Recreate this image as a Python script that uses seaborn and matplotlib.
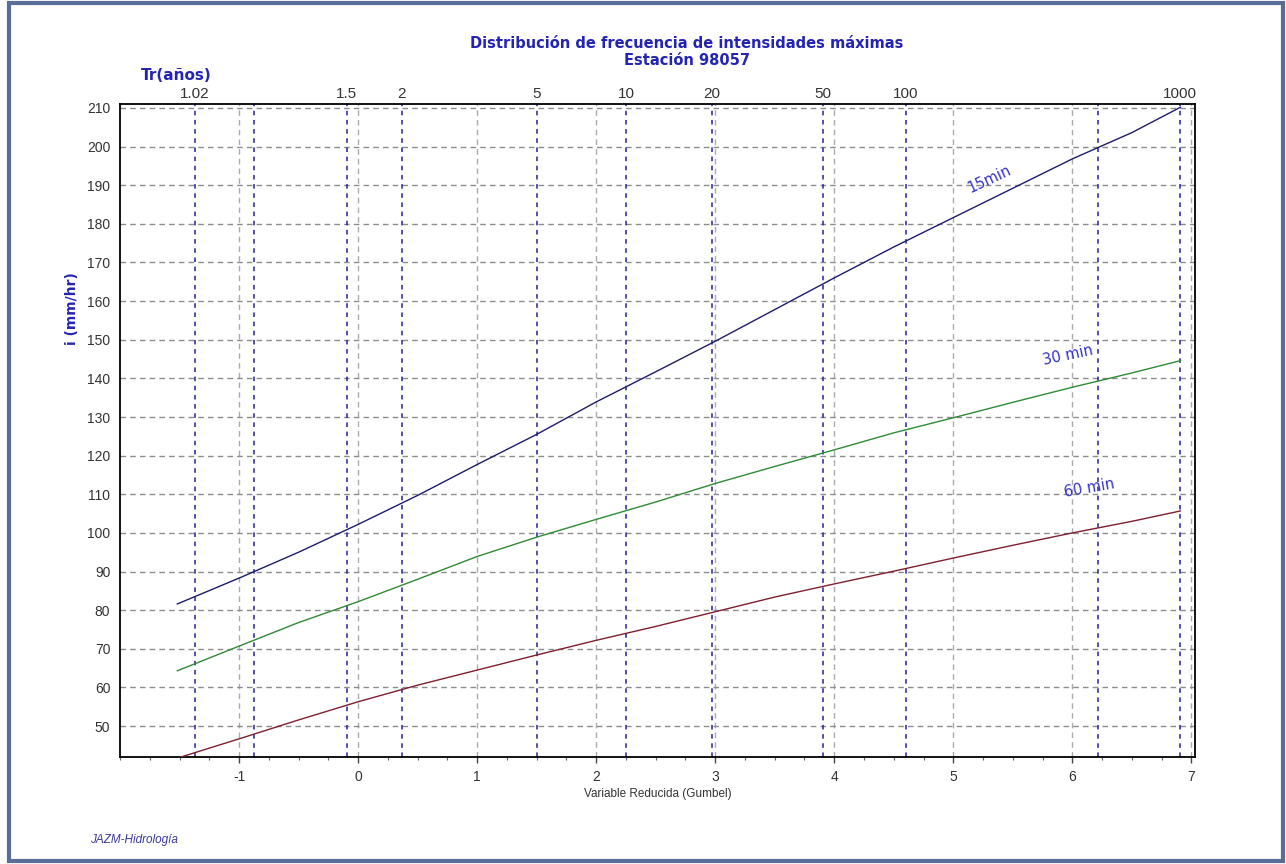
import numpy as np
import pandas as pd
import matplotlib
matplotlib.use("Agg")
import matplotlib.pyplot as plt
import seaborn as sns
from matplotlib.patches import Rectangle
from matplotlib.ticker import MultipleLocator

# ---------------- data ----------------
gumbel_y = [-1.52, -1.0, -0.5, 0.0, 0.5, 1.0, 1.5, 2.0, 2.5, 3.0, 3.5,
            4.0, 4.5, 5.0, 5.5, 6.0, 6.5, 6.91]
i_15min = [81.6, 88.3, 95.0, 102.2, 109.7, 117.7, 125.5, 133.9, 141.7, 149.6,
           157.8, 166.0, 174.0, 181.6, 189.2, 196.8, 203.6, 210.2]
i_30min = [64.3, 70.7, 76.8, 82.2, 88.0, 93.9, 98.9, 103.5, 108.0, 112.8,
           117.2, 121.5, 125.9, 129.8, 133.8, 137.7, 141.4, 144.6]
i_60min = [41.7, 46.7, 51.6, 56.3, 60.6, 64.5, 68.4, 72.2, 75.8, 79.6,
           83.4, 86.8, 90.1, 93.5, 96.8, 100.0, 103.0, 105.7]
series_names = ["15min", "30 min", "60 min"]
series_colors = ["#1c1c6b", "#2f8a36", "#7d1f2e"]

return_periods = [1.02, 1.1, 1.5, 2, 5, 10, 20, 50, 100, 500, 1000]
return_period_labels = ["1.02", "", "1.5", "2", "5", "10", "20", "50", "100", "", "1000"]

x_ticks = [-1, 0, 1, 2, 3, 4, 5, 6, 7]
y_ticks = list(range(50, 211, 10))

# label placement (gumbel variable, intensity, rotation)
label_x = [5.30, 5.96, 6.14]
label_y = [191.5, 146.0, 111.5]
label_rot = [25, 12, 10]


def gumbel(T):
    T = np.asarray(T, dtype=float)
    return -np.log(-np.log(1.0 - 1.0 / T))


# ---------------- style ----------------
sns.set_style("white")
plt.rcParams["font.family"] = ["Liberation Sans", "DejaVu Sans"]
BLUE = "#2424b4"

fig = plt.figure(figsize=(12.86, 8.64), dpi=100)
ax = fig.add_axes([0.0933, 0.1238, 0.8359, 0.7558])

df = pd.DataFrame({
    "x": gumbel_y * 3,
    "i": i_15min + i_30min + i_60min,
    "serie": [series_names[0]] * len(gumbel_y) + [series_names[1]] * len(gumbel_y)
             + [series_names[2]] * len(gumbel_y),
})

# blue return-period lines
for T in return_periods:
    ax.axvline(gumbel(T), color="#23239a", lw=1.1, ls=(0, (3, 3)), zorder=1.5)

sns.lineplot(data=df, x="x", y="i", hue="serie", palette=dict(zip(series_names, series_colors)),
             estimator=None, sort=False, legend=False, linewidth=1.0, ax=ax, zorder=3)

ax.set_xlim(-2.0, 7.03)
ax.set_ylim(42, 211)
ax.set_xticks(x_ticks)
ax.set_xticklabels([str(v) for v in x_ticks])
ax.set_yticks(y_ticks)
ax.xaxis.set_minor_locator(MultipleLocator(0.25))
ax.yaxis.set_minor_locator(MultipleLocator(2))
ax.xaxis.grid(True, which="major", color="#ababab", lw=1.0, ls=(0, (4, 3)))
ax.yaxis.grid(True, which="major", color="#8c8c8c", lw=1.0, ls=(0, (4, 3)))
ax.set_axisbelow(True)

for s in ax.spines.values():
    s.set_color("black")
    s.set_linewidth(1.3)

ax.tick_params(axis="both", which="major", direction="out", length=4, width=1,
               labelsize=10, labelcolor="#333333", color="#444444")
ax.tick_params(axis="both", which="minor", direction="out", length=2.5, width=0.8,
               color="#666666")
ax.tick_params(axis="x", pad=5)
ax.tick_params(axis="y", pad=3)

ax.set_xlabel("Variable Reducida (Gumbel)", fontsize=8.5, color="#333333", labelpad=3)
ax.set_ylabel("")
fig.text(0.056, 0.643, "i (mm/hr)", rotation=90, ha="center", va="center",
         fontsize=10, color=BLUE, fontweight="bold", family=["DejaVu Sans"])

# top axis with return periods
ax2 = ax.twiny()
ax2.set_xlim(ax.get_xlim())
lab_pos = [gumbel(T) for T, l in zip(return_periods, return_period_labels) if l]
lab_txt = [l for l in return_period_labels if l]
ax2.set_xticks(lab_pos)
ax2.set_xticklabels(lab_txt)
ax2.tick_params(axis="x", length=0, pad=2, labelsize=11, labelcolor="#333333")
for s in ax2.spines.values():
    s.set_visible(False)
ax2.grid(False)

# curve labels
for name, lx, ly, rot in zip(series_names, label_x, label_y, label_rot):
    ax.text(lx, ly, name, color="#3232c8", fontsize=10.5, rotation=rot,
            ha="center", va="center", rotation_mode="anchor", zorder=4,
            family=["DejaVu Sans"])

# titles and annotations
fig.text(0.534, 0.950, "Distribución de frecuencia de intensidades máximas",
         ha="center", va="center", fontsize=10.5, fontweight="bold", color=BLUE,
         family=["DejaVu Sans"])
fig.text(0.534, 0.930, "Estación 98057",
         ha="center", va="center", fontsize=10.5, fontweight="bold", color=BLUE,
         family=["DejaVu Sans"])
fig.text(0.137, 0.913, "Tr(años)", ha="center", va="center", fontsize=11,
         fontweight="bold", color=BLUE, family=["DejaVu Sans"])
fig.text(0.070, 0.028, "JAZM-Hidrología", ha="left", va="center", fontsize=8.5,
         style="italic", color="#3a3aa0")

fig.patches.append(Rectangle((0.007, 0.003), 0.991, 0.994, transform=fig.transFigure,
                             fill=False, edgecolor="#5a6c98", lw=3))

fig.savefig("out.png", dpi=100)
